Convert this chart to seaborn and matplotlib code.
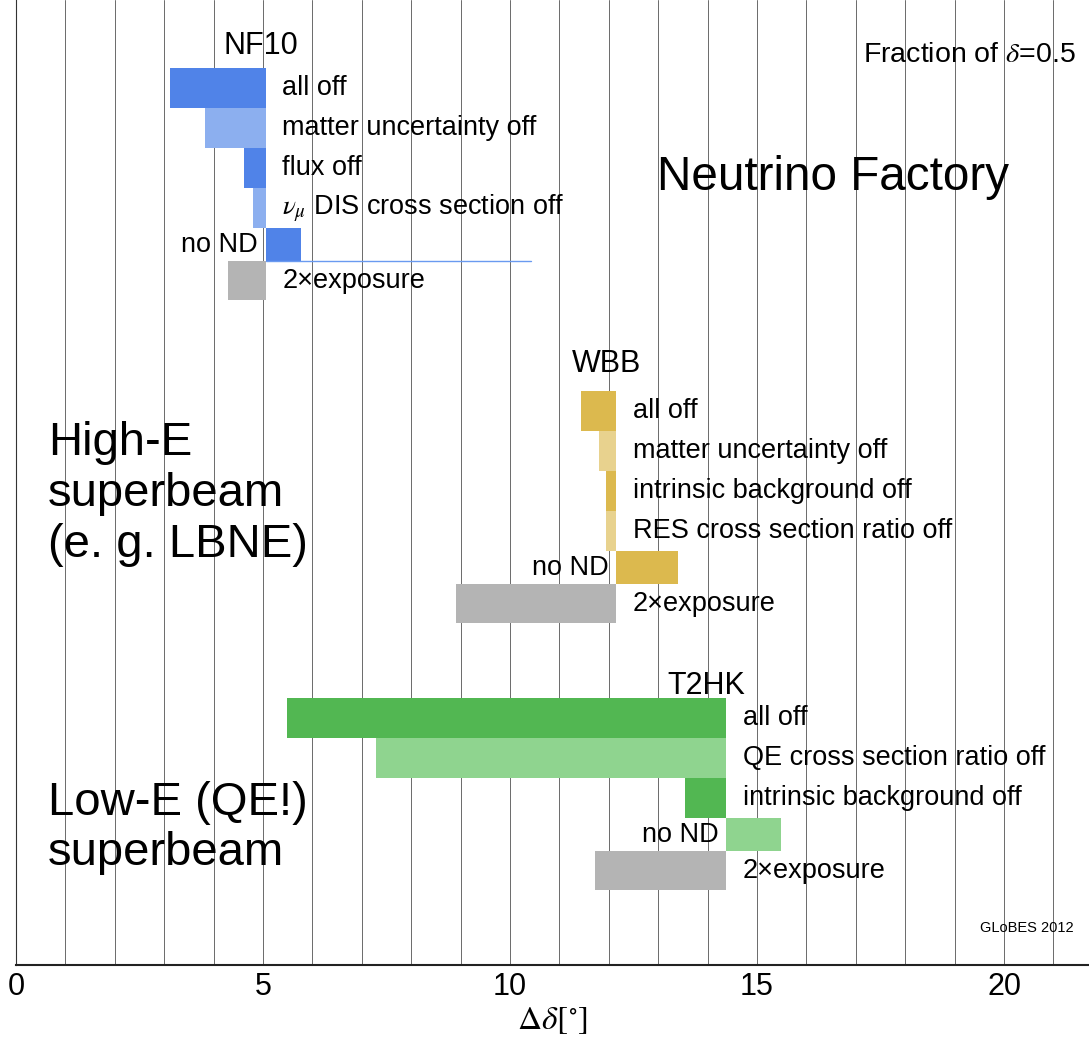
import matplotlib
matplotlib.use("Agg")
import matplotlib.pyplot as plt
import seaborn as sns
import numpy as np

# ---------------- data ----------------
nf_name = "NF10"
nf_labels = ["all off", "matter uncertainty off", "flux off",
             r"$\nu_\mu$ DIS cross section off", "no ND", "2×exposure"]
nf_base = 5.06
nf_values = [3.12, 3.83, 4.62, 4.80, 5.77, 4.29]
nf_line_end = 10.43

wbb_name = "WBB"
wbb_labels = ["all off", "matter uncertainty off", "intrinsic background off",
              "RES cross section ratio off", "no ND", "2×exposure"]
wbb_base = 12.15
wbb_values = [11.44, 11.80, 11.94, 11.94, 13.40, 8.91]

t2hk_name = "T2HK"
t2hk_labels = ["all off", "QE cross section ratio off", "intrinsic background off",
               "no ND", "2×exposure"]
t2hk_base = 14.38
t2hk_values = [5.48, 7.29, 13.55, 15.49, 11.72]

x_ticks = [0, 5, 10, 15, 20]

# ---------------- style ----------------
sns.set_theme(style="white")
plt.rcParams['font.family'] = ['Liberation Sans', 'DejaVu Sans']
plt.rcParams['mathtext.fontset'] = 'stix'
plt.rcParams['text.color'] = 'black'
plt.rcParams['axes.labelcolor'] = 'black'
plt.rcParams['xtick.color'] = 'black'

blue_d, blue_l = "#5083e8", "#8cafef"
yel_d, yel_l = "#dcb94e", "#e8d28e"
grn_d, grn_l = "#52b752", "#8fd48f"
gray = "#b4b4b4"

fig = plt.figure(figsize=(10.89, 10.42), dpi=100)
ax = fig.add_axes([16 / 1089, 77 / 1042, 1 - 16 / 1089, 965 / 1042])
ax.set_xlim(0, 21.72)
ax.set_ylim(24.125, 0)

for g in range(1, 22):
    ax.axvline(g, color="#6a6a6a", lw=0.7, zorder=0)

LABEL_FS = 19.5


def row_heights(labels):
    return [0.83 if l == "no ND" else (0.98 if l.startswith("2×") else 1.0) for l in labels]


def draw_group(name, labels, base, values, colors, top, name_y, name_dx):
    hs = row_heights(labels)
    y = top
    for lab, v, h, c in zip(labels, values, hs, colors):
        left = min(v, base)
        ax.barh(y, abs(v - base), left=left, height=h, align="edge",
                color=c, edgecolor="none", zorder=2)
        yc = y + h / 2
        if lab == "no ND":
            ax.text(base - 0.16, yc, lab, ha="right", va="center", fontsize=LABEL_FS, zorder=3)
        else:
            ax.text(base + 0.33, yc, lab, ha="left", va="center", fontsize=LABEL_FS, zorder=3)
        y += h
    ax.text(base + name_dx, name_y, name, ha="center", va="center", fontsize=22)


nf_colors = [blue_d, blue_l, blue_d, blue_l, blue_d, gray]
wbb_colors = [yel_d, yel_l, yel_d, yel_l, yel_d, gray]
t2hk_colors = [grn_d, grn_l, grn_d, grn_l, gray]

draw_group(nf_name, nf_labels, nf_base, nf_values, nf_colors, 1.7, 1.15, -0.1)
draw_group(wbb_name, wbb_labels, wbb_base, wbb_values, wbb_colors, 9.775, 9.1, -0.2)
draw_group(t2hk_name, t2hk_labels, t2hk_base, t2hk_values, t2hk_colors, 17.45, 17.15, -0.4)

# thin line below NF "no ND" row
nf_hs = row_heights(nf_labels)
line_y = 1.7 + sum(nf_hs[:5])
ax.plot([nf_base, nf_line_end], [line_y, line_y], color="#6a9af0", lw=1.0, zorder=2)

# annotations
ax.text(12.98, 4.45, "Neutrino Factory", ha="left", va="center", fontsize=34.3)
ax.text(0.65, 12.35, "High-E\nsuperbeam\n(e. g. LBNE)", ha="left", va="center",
        fontsize=34, linespacing=1.2)
ax.text(0.65, 20.7, "Low-E (QE!)\nsuperbeam", ha="left", va="center",
        fontsize=34, linespacing=1.2)
ax.text(21.45, 1.38, r"Fraction of $\delta$=0.5", ha="right", va="center", fontsize=20.5)
ax.text(21.4, 23.2, "GLoBES 2012", ha="right", va="center", fontsize=10.5)

ax.set_xticks(x_ticks)
ax.set_xticklabels([str(t) for t in x_ticks], fontsize=22)
ax.set_yticks([])
ax.tick_params(axis="x", length=0, pad=5)
ax.set_xlabel(r"$\Delta\delta[^{\circ}]$", fontsize=24, labelpad=2)

for s in ["top", "right"]:
    ax.spines[s].set_visible(False)
ax.spines["left"].set_color("#333333")
ax.spines["left"].set_linewidth(0.8)
ax.spines["bottom"].set_color("#222222")
ax.spines["bottom"].set_linewidth(1.5)

fig.savefig("out.png", dpi=100)
